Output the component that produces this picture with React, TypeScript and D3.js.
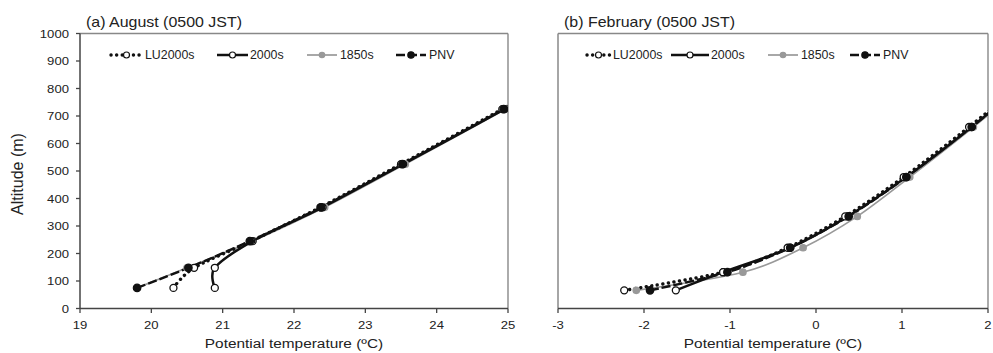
import React from "react";
import * as d3 from "d3";

// Panel (a) August
const augAlt = [75, 148, 245, 368, 525, 725, 940];
const augLU2000s = [20.31, 20.6, 21.4, 22.37, 23.5, 24.92, 26.37];
const aug2000s = [20.89, 20.89, 21.42, 22.4, 23.53, 24.95, 26.4];
const aug1850s = [19.8, 20.5, 21.42, 22.43, 23.56, 24.97, 26.42];
const augPNV = [19.8, 20.52, 21.38, 22.38, 23.52, 24.94, 26.4];

// Panel (b) February
const febAlt = [66, 132, 221, 335, 478, 660, 870];
const febLU2000s = [-2.23, -1.08, -0.33, 0.34, 1.02, 1.78, 2.6];
const feb2000s = [-1.63, -1.08, -0.3, 0.37, 1.05, 1.81, 2.62];
const feb1850s = [-2.09, -0.85, -0.15, 0.48, 1.09, 1.83, 2.64];
const febPNV = [-1.93, -1.03, -0.3, 0.38, 1.05, 1.81, 2.62];

const augTicksX = [19, 20, 21, 22, 23, 24, 25];
const febTicksX = [-3, -2, -1, 0, 1, 2];
const altTicks = [0, 100, 200, 300, 400, 500, 600, 700, 800, 900, 1000];
const seriesNames = ["LU2000s", "2000s", "1850s", "PNV"];

const FONT = "Liberation Sans, Arial, sans-serif";
const SX = 1.14; // horizontal stretch of the source raster

type Style = {
  stroke: string;
  width: number;
  dash?: string;
  cap?: string;
  mFill: string;
  mStroke: string;
  r: number;
};

const styles: Record<string, Style> = {
  LU2000s: { stroke: "#111", width: 3.4, dash: "0.1 5.5", cap: "round", mFill: "#fff", mStroke: "#111", r: 3.5 },
  "2000s": { stroke: "#111", width: 2.5, mFill: "#fff", mStroke: "#111", r: 3.5 },
  "1850s": { stroke: "#999", width: 1.7, mFill: "#999", mStroke: "#999", r: 3.2 },
  PNV: { stroke: "#111", width: 2.4, dash: "9 3", mFill: "#111", mStroke: "#111", r: 3.7 },
};

function T(props: {
  x: number;
  y: number;
  size: number;
  anchor?: string;
  sx?: number;
  rotate?: number;
  children: React.ReactNode;
}) {
  const sx = props.sx ?? SX;
  const rot = props.rotate ? ` rotate(${props.rotate})` : "";
  return (
    <text
      transform={`translate(${props.x},${props.y})${rot} scale(${sx},1)`}
      textAnchor={props.anchor || "start"}
      fontSize={props.size}
      fontFamily={FONT}
      fill="#222"
    >
      {props.children}
    </text>
  );
}

type PanelProps = {
  id: string;
  left: number;
  right: number;
  xDomain: [number, number];
  xTicks: number[];
  title: string;
  alt: number[];
  series: Record<string, number[]>;
  showY: boolean;
  legend: { line: [number, number]; text: number }[];
};

const TOP = 33.5;
const BOTTOM = 308.5;

function Panel(p: PanelProps) {
  const x = d3.scaleLinear().domain(p.xDomain).range([p.left, p.right]);
  const y = d3.scaleLinear().domain([0, 1000]).range([BOTTOM, TOP]);
  const order = ["1850s", "2000s", "LU2000s", "PNV"];
  const line = d3
    .line<[number, number]>()
    .x((d) => x(d[0]))
    .y((d) => y(d[1]))
    .curve(d3.curveCardinal.tension(0.1));
  const clipId = "clip-" + p.id;
  return (
    <g>
      <defs>
        <clipPath id={clipId}>
          <rect x={p.left} y={TOP} width={p.right - p.left} height={BOTTOM - TOP} />
        </clipPath>
      </defs>
      <T x={p.left + 6} y={27} size={14}>
        {p.title}
      </T>
      {/* frame */}
      <line x1={p.left} x2={p.right} y1={TOP} y2={TOP} stroke="#888" strokeWidth={1.4} />
      <line x1={p.right} x2={p.right} y1={TOP} y2={BOTTOM} stroke="#888" strokeWidth={1.4} />
      <line x1={p.left} x2={p.left} y1={TOP} y2={BOTTOM} stroke={p.showY ? "#444" : "#888"} strokeWidth={1.5} />
      <line x1={p.left} x2={p.right} y1={BOTTOM} y2={BOTTOM} stroke="#444" strokeWidth={1.5} />
      {p.showY &&
        altTicks.map((t) => (
          <g key={"y" + t}>
            <line x1={p.left - 4} x2={p.left} y1={y(t)} y2={y(t)} stroke="#444" strokeWidth={1.3} />
            <T x={p.left - 11} y={y(t) + 4.2} size={11.5} anchor="end">
              {t}
            </T>
          </g>
        ))}
      {p.xTicks.map((t) => (
        <g key={"x" + t}>
          <line x1={x(t)} x2={x(t)} y1={BOTTOM} y2={BOTTOM + 4.5} stroke="#444" strokeWidth={1.3} />
          <T x={x(t)} y={BOTTOM + 20.5} size={11.5} anchor="middle">
            {t}
          </T>
        </g>
      ))}
      <T x={(p.left + p.right) / 2} y={348} size={13.5} anchor="middle">
        Potential temperature (ºC)
      </T>
      <g clipPath={`url(#${clipId})`}>
        {order.map((name) => {
          const st = styles[name];
          const pts: [number, number][] = p.series[name].map((v, i) => [v, p.alt[i]]);
          return (
            <path
              key={"l" + name}
              d={line(pts) || ""}
              fill="none"
              stroke={st.stroke}
              strokeWidth={st.width}
              strokeDasharray={st.dash}
              strokeLinecap={(st.cap as any) || "butt"}
            />
          );
        })}
        {order.map((name) => {
          const st = styles[name];
          return (
            <g key={"m" + name}>
              {p.series[name].map((v, i) => (
                <circle
                  key={i}
                  cx={x(v)}
                  cy={y(p.alt[i])}
                  r={st.r}
                  fill={st.mFill}
                  stroke={st.mStroke}
                  strokeWidth={1.3}
                />
              ))}
            </g>
          );
        })}
      </g>
      {/* legend */}
      {seriesNames.map((name, i) => {
        const st = styles[name];
        const lg = p.legend[i];
        const ly = 55;
        const mx = (lg.line[0] + lg.line[1]) / 2;
        return (
          <g key={"lg" + name}>
            <line
              x1={lg.line[0]}
              x2={lg.line[1]}
              y1={ly}
              y2={ly}
              stroke={st.stroke}
              strokeWidth={st.width}
              strokeDasharray={st.dash}
              strokeLinecap={(st.cap as any) || "butt"}
            />
            <circle cx={mx} cy={ly} r={st.r - 0.5} fill={st.mFill} stroke={st.mStroke} strokeWidth={1.2} />
            <T x={lg.text} y={ly + 4.3} size={12} sx={1.03}>
              {name}
            </T>
          </g>
        );
      })}
    </g>
  );
}

export default function App() {
  return (
    <svg width={993} height={353} style={{ display: "block", position: "absolute", left: 0, top: 0, background: "#fff" }}>
      <rect width={993} height={353} fill="#fff" />
      <T x={23} y={174} size={16} rotate={-90} anchor="middle" sx={1}>
        Altitude (m)
      </T>
      <Panel
        id="a"
        left={80}
        right={508}
        xDomain={[19, 25]}
        xTicks={augTicksX}
        title="(a) August (0500 JST)"
        alt={augAlt}
        series={{ LU2000s: augLU2000s, "2000s": aug2000s, "1850s": aug1850s, PNV: augPNV }}
        showY={true}
        legend={[
          { line: [111, 142], text: 145 },
          { line: [217, 248], text: 250 },
          { line: [307, 337], text: 340 },
          { line: [396, 426], text: 429 },
        ]}
      />
      <Panel
        id="b"
        left={558}
        right={988}
        xDomain={[-3, 2]}
        xTicks={febTicksX}
        title="(b) February (0500 JST)"
        alt={febAlt}
        series={{ LU2000s: febLU2000s, "2000s": feb2000s, "1850s": feb1850s, PNV: febPNV }}
        showY={false}
        legend={[
          { line: [587, 610], text: 613 },
          { line: [671, 709], text: 711 },
          { line: [768, 798], text: 801 },
          { line: [850, 880], text: 883 },
        ]}
      />
    </svg>
  );
}
